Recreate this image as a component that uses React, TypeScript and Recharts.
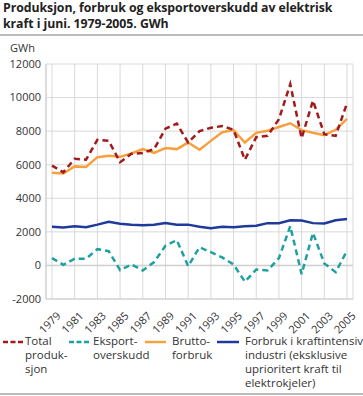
import React from 'react';
import {
  LineChart,
  Line,
  XAxis,
  YAxis,
  CartesianGrid,
  ReferenceLine,
} from 'recharts';

// År (juni) 1979-2005
const years = [
  1979, 1980, 1981, 1982, 1983, 1984, 1985, 1986, 1987, 1988, 1989, 1990, 1991, 1992,
  1993, 1994, 1995, 1996, 1997, 1998, 1999, 2000, 2001, 2002, 2003, 2004, 2005,
];

// GWh, lest av figuren
const totalProduksjon = [
  5950, 5550, 6350, 6300, 7480, 7420, 6150, 6650, 6700, 6930, 8150, 8450, 7320, 8000,
  8200, 8300, 8080, 6300, 7640, 7720, 8710, 10800, 7580, 9820, 7820, 7720, 9660,
];
const eksportoverskudd = [
  435, 40, 400, 400, 970, 850, -280, 60, -300, 200, 1170, 1510, -40, 1080,
  790, 480, 60, -970, -240, -300, 430, 2340, -520, 1940, 120, -400, 870,
];
const bruttoforbruk = [
  5520, 5480, 5900, 5860, 6450, 6530, 6470, 6670, 6930, 6710, 6990, 6930, 7320, 6890,
  7420, 7940, 8060, 7320, 7900, 8020, 8250, 8470, 8060, 7900, 7760, 8080, 8730,
];
const kraftintensiv = [
  2300, 2260, 2340, 2280, 2430, 2600, 2480, 2420, 2400, 2430, 2520, 2430, 2430, 2300,
  2220, 2300, 2280, 2340, 2360, 2520, 2520, 2690, 2670, 2520, 2500, 2690, 2770,
];

const xTicks = [1979, 1981, 1983, 1985, 1987, 1989, 1991, 1993, 1995, 1997, 1999, 2001, 2003, 2005];
const yTicks = [-2000, 0, 2000, 4000, 6000, 8000, 10000, 12000];

const FONT = '"Open Sans", "DejaVu Sans", sans-serif';

const data = years.map((year, i) => ({
  year,
  total: totalProduksjon[i],
  eksport: eksportoverskudd[i],
  brutto: bruttoforbruk[i],
  industri: kraftintensiv[i],
}));

const YearTick = (props: any) => {
  const { x, y, payload } = props;
  return (
    <g transform={`translate(${x + 4},${y + 4})`}>
      <text
        textAnchor="end"
        transform="rotate(-45)"
        fontSize={11}
        fill="#333"
        fontFamily={FONT}
        dy="0.7em"
      >
        {payload.value}
      </text>
    </g>
  );
};

const legendItems = [
  { color: '#a01b1b', dashed: true, lines: ['Total', 'produk-', 'sjon'], left: 3, width: 22, gap: 0 },
  { color: '#1fa0a0', dashed: true, lines: ['Eksport-', 'overskudd'], left: 69, width: 22, gap: 2 },
  { color: '#f7a040', dashed: false, lines: ['Brutto-', 'forbruk'], left: 145, width: 21, gap: 6 },
  {
    color: '#1f3a9a',
    dashed: false,
    lines: ['Forbruk i kraftintensiv', 'industri (eksklusive', 'uprioritert kraft til', 'elektrokjeler)'],
    left: 217,
    width: 22,
    gap: 6,
  },
];

const App: React.FC = () => {
  return (
    <div
      style={{
        position: 'absolute',
        top: 0,
        left: 0,
        width: 363,
        height: 396,
        background: '#fff',
        fontFamily: FONT,
        color: '#222',
        overflow: 'hidden',
      }}
    >
      <div
        style={{
          position: 'absolute',
          top: 0,
          left: 3,
          fontSize: 12.3,
          fontWeight: 700,
          lineHeight: '16px',
          letterSpacing: -0.05,
        }}
      >
        Produksjon, forbruk og eksportoverskudd av elektrisk
        <br />
        kraft i juni. 1979-2005. GWh
      </div>
      <div style={{ position: 'absolute', top: 34, left: 0, width: 363, height: 2, background: '#bbb' }} />
      <div style={{ position: 'absolute', top: 40, left: 10, fontSize: 11, color: '#333' }}>GWh</div>

      <div style={{ position: 'absolute', top: 0, left: 0 }}>
        <LineChart
          width={363}
          height={345}
          data={data}
          margin={{ top: 64, right: 10, left: 0, bottom: 0 }}
        >
          <CartesianGrid stroke="#d9d9d9" strokeWidth={1} />
          <XAxis
            dataKey="year"
            type="number"
            domain={[1979, 2005]}
            ticks={xTicks}
            interval={0}
            padding={{ left: 6, right: 6 }}
            tick={<YearTick />}
            tickLine={false}
            axisLine={{ stroke: '#ccc' }}
            height={46}
          />
          <YAxis
            domain={[-2000, 12000]}
            ticks={yTicks}
            interval={0}
            width={46}
            tickSize={0}
            tickMargin={5}
            axisLine={{ stroke: '#ccc' }}
            tick={{ fontSize: 11, fill: '#333', fontFamily: FONT }}
          />
          <ReferenceLine y={0} stroke="#d0d0d0" strokeWidth={1.5} />
          <Line
            dataKey="brutto"
            stroke="#f7a040"
            strokeWidth={2.5}
            dot={false}
            isAnimationActive={false}
          />
          <Line
            dataKey="industri"
            stroke="#1f3a9a"
            strokeWidth={2.5}
            dot={false}
            isAnimationActive={false}
          />
          <Line
            dataKey="eksport"
            stroke="#1fa0a0"
            strokeWidth={2.5}
            strokeDasharray="6 4"
            dot={false}
            isAnimationActive={false}
          />
          <Line
            dataKey="total"
            stroke="#a01b1b"
            strokeWidth={2.5}
            strokeDasharray="6 4"
            dot={false}
            isAnimationActive={false}
          />
        </LineChart>
      </div>

      {legendItems.map((item) => (
        <div key={item.left} style={{ position: 'absolute', top: 334, left: item.left }}>
          <svg width={item.width} height={4} style={{ position: 'absolute', top: 6, left: 0 }}>
            <line
              x1={0}
              y1={2}
              x2={item.width}
              y2={2}
              stroke={item.color}
              strokeWidth={2.5}
              strokeDasharray={item.dashed ? '5 2.5' : undefined}
            />
          </svg>
          <div
            style={{
              position: 'absolute',
              top: 0,
              left: item.width + item.gap,
              fontSize: 11.5,
              lineHeight: '14px',
              color: '#333',
              whiteSpace: 'nowrap',
            }}
          >
            {item.lines.map((l) => (
              <div key={l}>{l}</div>
            ))}
          </div>
        </div>
      ))}

      <div style={{ position: 'absolute', top: 393, left: 0, width: 363, height: 2, background: '#bbb' }} />
    </div>
  );
};

export default App;
